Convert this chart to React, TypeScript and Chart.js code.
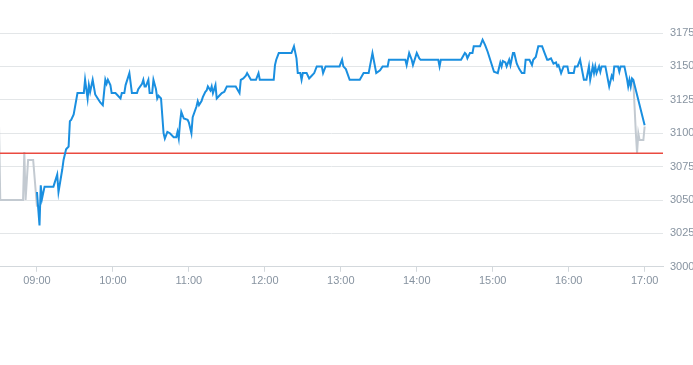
import React, { useEffect, useRef } from "react";
import { Chart, registerables } from "chart.js";

Chart.register(...registerables);

// ---- data ----
const blueTimes = [
  "09:00","09:02","09:03","09:04","09:06","09:13","09:16","09:17","09:20","09:21","09:23","09:25","09:26","09:27","09:29","09:32","09:37","09:38","09:40","09:41","09:42","09:44","09:46","09:48","09:50","09:52","09:54","09:55","09:56","09:58","09:59",
  "10:02","10:04","10:06","10:07","10:09","10:10","10:13","10:15","10:19","10:20","10:23","10:24","10:25","10:26","10:28","10:29","10:31","10:32","10:34","10:35","10:36","10:38","10:39","10:40","10:41","10:43","10:45","10:48","10:50","10:51","10:52","10:53","10:54","10:56","10:59",
  "11:00","11:02","11:03","11:06","11:07","11:08","11:10","11:11","11:13","11:14","11:15","11:17","11:18","11:19","11:21","11:22","11:24","11:26","11:28","11:30","11:37","11:40","11:41","11:43","11:45","11:46","11:49","11:53","11:55","11:56",
  "12:07","12:08","12:09","12:11","12:21","12:23","12:25","12:26","12:28","12:29","12:30","12:33","12:35","12:37","12:39","12:41","12:45","12:46","12:48","12:59",
  "13:01","13:02","13:04","13:07","13:15","13:18","13:22","13:23","13:25","13:28","13:31","13:33","13:37","13:38","13:51","13:52","13:54","13:56","13:57",
  "14:00","14:02","14:03","14:17","14:18","14:19","14:35","14:38","14:39","14:40","14:42","14:44","14:45","14:50","14:52","14:54","14:56","14:57","14:59",
  "15:01","15:04","15:06","15:07","15:08","15:10","15:11","15:13","15:14","15:16","15:17","15:19","15:21","15:23","15:25","15:26","15:29","15:31","15:32","15:34","15:36","15:39","15:41","15:43","15:44","15:46","15:48","15:50","15:51","15:52","15:54","15:56","15:59",
  "16:00","16:04","16:05","16:07","16:09","16:10","16:12","16:14","16:16","16:17","16:19","16:20","16:21","16:22","16:24","16:25","16:26","16:29","16:30","16:32","16:34","16:35","16:36","16:39","16:40","16:41","16:44","16:46","16:47","16:48","16:49","16:50","16:51",
  "17:00",
];
const blueValues = [
  3056,3031,3061,3051,3060,3060,3069,3056,3073,3080,3088,3090,3109,3110,3114,3130,3130,3140,3126,3136,3131,3140,3129,3126,3123,3121,3140,3137,3140,3136,3130,
  3130,3128,3126,3130,3130,3136,3145,3130,3130,3133,3137,3140,3135,3135,3140,3130,3130,3140,3133,3126,3128,3126,3113,3100,3096,3101,3100,3097,3097,3101,3096,3108,3116,3111,3110,
  3108,3100,3112,3120,3124,3121,3124,3127,3131,3132,3135,3132,3135,3130,3136,3126,3128,3130,3131,3135,3135,3130,3140,3141,3143,3145,3140,3140,3145,3140,
  3140,3151,3155,3160,3160,3165,3156,3145,3145,3140,3145,3145,3141,3143,3145,3150,3150,3145,3150,3150,
  3155,3150,3148,3140,3140,3145,3145,3150,3160,3145,3147,3150,3150,3155,3155,3151,3160,3155,3151,
  3160,3156,3155,3155,3150,3155,3155,3160,3159,3156,3160,3160,3165,3165,3170,3166,3161,3158,3152,
  3146,3145,3153,3150,3154,3153,3150,3155,3151,3160,3160,3152,3148,3145,3145,3155,3155,3151,3155,3157,3165,3165,3160,3155,3155,3156,3152,3153,3150,3151,3145,3150,3150,
  3145,3145,3150,3150,3155,3150,3140,3140,3150,3140,3150,3145,3150,3145,3150,3146,3150,3150,3145,3135,3143,3141,3150,3150,3146,3150,3150,3141,3135,3140,3135,3141,3140,
  3106,
];

const grayStartTimes = ["08:30","08:31","08:49","08:50","08:51","08:53","08:57","09:00"];
const grayStartValues = [3107,3050,3050,3086,3050,3080,3080,3045];

const grayEndTimes = ["16:51","16:53","16:54","16:55","16:56","16:59","17:00"];
const grayEndValues = [3140,3101,3085,3100,3095,3095,3105];

const referenceLevel = 3085;

const xTickLabels = ["09:00","10:00","11:00","12:00","13:00","14:00","15:00","16:00","17:00"];
const yMin = 3000;
const yMax = 3175;
const yStep = 25;

const xMin = 510.8;
const xMax = 1034.5;

// ---- helpers ----
const toMin = (s: string) => {
  const [h, m] = s.split(":").map(Number);
  return h * 60 + m;
};
const fmt = (v: number) => {
  const h = Math.floor(v / 60);
  const m = Math.round(v - h * 60);
  return `${String(h).padStart(2, "0")}:${String(m).padStart(2, "0")}`;
};
const pts = (t: string[], v: number[]) => t.map((s, i) => ({ x: toMin(s), y: v[i] }));

export default function App() {
  const ref = useRef<HTMLCanvasElement | null>(null);

  useEffect(() => {
    document.body.style.margin = "0";
    const ctx = ref.current;
    if (!ctx) return;
    const tickColor = "#8793a0";
    const chart = new Chart(ctx, {
      type: "line",
      data: {
        datasets: [
          {
            data: pts(blueTimes, blueValues),
            borderColor: "#1a8fe0",
            borderWidth: 2,
            pointRadius: 0,
            tension: 0,
            fill: false,
          },
          {
            data: [
              { x: xMin, y: referenceLevel },
              { x: xMax, y: referenceLevel },
            ],
            borderColor: "#ea4a40",
            borderWidth: 1.5,
            pointRadius: 0,
            fill: false,
          },
          {
            data: pts(grayStartTimes, grayStartValues),
            borderColor: "#c3cad1",
            borderWidth: 2,
            pointRadius: 0,
            tension: 0,
            fill: false,
          },
          {
            data: pts(grayEndTimes, grayEndValues),
            borderColor: "#c3cad1",
            borderWidth: 2,
            pointRadius: 0,
            tension: 0,
            fill: false,
          },
        ],
      },
      options: {
        animation: false,
        responsive: false,
        layout: { padding: { top: 33, bottom: 74, left: 0, right: 0 } },
        plugins: { legend: { display: false }, tooltip: { enabled: false } },
        scales: {
          x: {
            type: "linear",
            min: xMin,
            max: xMax,
            afterBuildTicks: (s: any) => {
              s.ticks = xTickLabels.map((l) => ({ value: toMin(l) }));
            },
            ticks: {
              callback: (v: any) => fmt(Number(v)),
              color: tickColor,
              font: { size: 11 },
              maxRotation: 0,
              autoSkip: false,
              padding: 3,
            },
            grid: { display: true, drawOnChartArea: false, drawTicks: true, tickLength: 5, color: "#d3d8dc" },
            border: { display: true, color: "#d3d8dc" },
          },
          y: {
            position: "right",
            min: yMin,
            max: yMax,
            afterFit: (s: any) => {
              s.width = 30;
            },
            ticks: {
              stepSize: yStep,
              color: tickColor,
              font: { size: 11 },
              padding: 7,
              callback: (v: any) => String(v),
            },
            grid: { color: "#e3e6e8", drawTicks: false },
            border: { display: false },
          },
        },
      },
    } as any);
    return () => chart.destroy();
  }, []);

  return <canvas ref={ref} width={693} height={365} style={{ display: "block" }} />;
}
